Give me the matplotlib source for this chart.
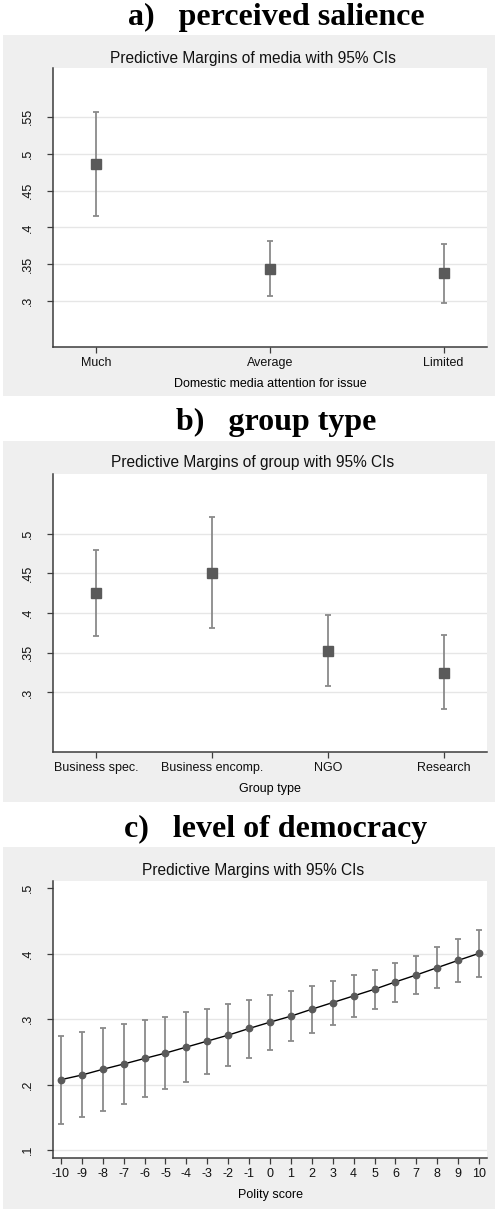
import numpy as np
import matplotlib
matplotlib.use("Agg")
import matplotlib.pyplot as plt
from matplotlib.patches import Rectangle

# a) perceived salience
media_cats = ["Much", "Average", "Limited"]
media_margin = [0.4855, 0.344, 0.338]
media_lo = [0.4157, 0.307, 0.297]
media_hi = [0.5564, 0.381, 0.378]

# b) group type
group_cats = ["Business spec.", "Business encomp.", "NGO", "Research"]
group_margin = [0.4248, 0.4504, 0.3525, 0.325]
group_lo = [0.3714, 0.381, 0.3084, 0.279]
group_hi = [0.479, 0.5205, 0.397, 0.372]

# c) level of democracy
polity = list(range(-10, 11))
polity_margin = [0.2076, 0.2147, 0.2234, 0.2315, 0.2400, 0.2482, 0.2574, 0.2665,
                 0.2756, 0.2858, 0.2954, 0.3046, 0.3152, 0.3254, 0.3355, 0.3457,
                 0.3569, 0.3675, 0.3787, 0.3898, 0.4005]
polity_lo = [0.1406, 0.150, 0.1604, 0.1706, 0.1817, 0.1929, 0.204, 0.2162,
             0.2279, 0.2406, 0.2533, 0.2665, 0.2787, 0.2914, 0.3036, 0.3152,
             0.3269, 0.3381, 0.3472, 0.3563, 0.365]
polity_hi = [0.2736, 0.280, 0.2858, 0.2919, 0.298, 0.304, 0.3107, 0.3162,
             0.3228, 0.3294, 0.3365, 0.3437, 0.3508, 0.3579, 0.367, 0.3756,
             0.3858, 0.397, 0.4096, 0.4228, 0.4365]

W, H = 499, 1209
BG = "#efefef"
GRID = "#e6e6e6"
MARK = "#5a5a5a"
CI = "#8a8a8a"
AXIS = "#3c3c3c"
TICK_FS = 9.0

plt.rcParams["font.family"] = ["Liberation Sans", "DejaVu Sans"]

fig = plt.figure(figsize=(W / 100, H / 100), dpi=100)
fig.patch.set_facecolor("white")


def fx(px):
    return px / W


def fy(py):
    return 1 - py / H


def panel(letter_title, title_base, box_top, box_bot, ax_top, ax_bot, inner_title, inner_y):
    # grey graph region behind the white plot region
    fig.patches.append(Rectangle((fx(3), fy(box_bot)), fx(492), (box_bot - box_top) / H,
                                 transform=fig.transFigure, facecolor=BG, edgecolor="none",
                                 zorder=-5))
    fig.text(fx(276), fy(title_base), letter_title, ha="center", va="baseline",
             fontsize=23, fontweight="bold", family="Liberation Serif")
    fig.text(fx(253), fy(inner_y), inner_title, ha="center", va="center",
             fontsize=11.2, color="#111111")
    ax = fig.add_axes([fx(53), fy(ax_bot), fx(434), (ax_bot - ax_top) / H])
    ax.set_facecolor("white")
    for s in ["top", "right"]:
        ax.spines[s].set_visible(False)
    for s in ["left", "bottom"]:
        ax.spines[s].set_color(AXIS)
        ax.spines[s].set_linewidth(1.1)
    ax.tick_params(axis="both", colors=AXIS, length=4, width=0.9, labelsize=TICK_FS,
                   labelcolor="#111111")
    ax.tick_params(axis="y", pad=10)
    ax.tick_params(axis="x", pad=3.5)
    ax.yaxis.grid(True, color=GRID, linewidth=1.0)
    ax.set_axisbelow(True)
    return ax


def ylabels(ax, ticks, labels):
    ax.set_yticks(ticks)
    ax.set_yticklabels(labels, rotation=90, va="center")


def cat_panel(ax, cats, margin, lo, hi):
    x = np.arange(1, len(cats) + 1)
    m = np.array(margin)
    ax.errorbar(x, m, yerr=[m - np.array(lo), np.array(hi) - m],
                fmt="s", color=MARK, ms=7.2, ecolor=CI, elinewidth=1.3,
                capsize=2.4, capthick=1.3)
    ax.set_xticks(x)
    ax.set_xticklabels(cats)


# panel a
ax = panel("a)   perceived salience", 25.5, 35, 396, 68, 347,
           "Predictive Margins of media with 95% CIs", 59)
cat_panel(ax, media_cats, media_margin, media_lo, media_hi)
ax.set_xlim(0.75, 3.25)
ax.set_ylim(0.238, 0.616)
ylabels(ax, [0.3, 0.35, 0.4, 0.45, 0.5, 0.55], [".3", ".35", ".4", ".45", ".5", ".55"])
ax.set_xlabel("Domestic media attention for issue", fontsize=TICK_FS, labelpad=6)

# panel b
ax = panel("b)   group type", 429.5, 441, 802, 474, 752,
           "Predictive Margins of group with 95% CIs", 463)
cat_panel(ax, group_cats, group_margin, group_lo, group_hi)
ax.set_xlim(0.625, 4.375)
ax.set_ylim(0.225, 0.575)
ylabels(ax, [0.3, 0.35, 0.4, 0.45, 0.5], [".3", ".35", ".4", ".45", ".5"])
ax.set_xlabel("Group type", fontsize=TICK_FS, labelpad=6)

# panel c
ax = panel("c)   level of democracy", 837, 847, 1212, 881, 1158,
           "Predictive Margins with 95% CIs", 870)
m = np.array(polity_margin)
ax.errorbar(polity, m, yerr=[m - np.array(polity_lo), np.array(polity_hi) - m],
            fmt="none", ecolor=CI, elinewidth=1.3, capsize=2.4, capthick=1.3)
ax.plot(polity, polity_margin, color="black", linewidth=1.0, zorder=3)
ax.plot(polity, polity_margin, "o", color=MARK, ms=4.6, zorder=4)
ax.set_xlim(-10.38, 10.38)
ax.set_ylim(0.088, 0.511)
ylabels(ax, [0.1, 0.2, 0.3, 0.4, 0.5], [".1", ".2", ".3", ".4", ".5"])
ax.get_ygridlines()[-1].set_visible(False)
ax.set_xticks(polity)
ax.set_xticklabels([str(p) for p in polity])
ax.set_xlabel("Polity score", fontsize=TICK_FS, labelpad=6)

fig.savefig("out.png", dpi=100, facecolor="white")
